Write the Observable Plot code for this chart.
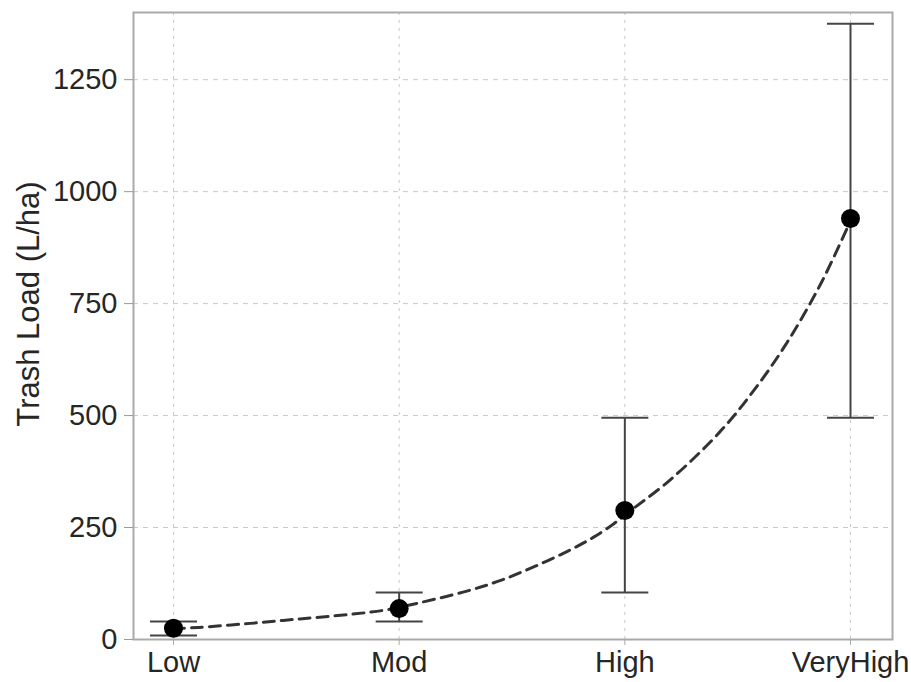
<!DOCTYPE html>
<html><head><meta charset="utf-8">
<script src="https://cdn.jsdelivr.net/npm/d3@7"></script>
<script src="https://cdn.jsdelivr.net/npm/@observablehq/plot@0.6"></script>
<style>body{margin:0;background:#fff;}</style>
</head><body><div id="chart"></div>
<script>
const categories = ["Low", "Mod", "High", "VeryHigh"];
const categoryIndex = [0, 1, 2, 3];
const meanLoad = [25, 69, 288, 940];
const lowerLoad = [9, 40, 105, 495];
const upperLoad = [40, 105, 495, 1375];
const fitPosition = [0, 0.11, 0.34, 0.56, 0.78, 0.93, 1.0, 1.09, 1.30, 1.45, 1.60, 1.75, 1.86, 1.95, 2.0, 2.20, 2.42, 2.57, 2.72, 2.87, 3.0];
const fitLoad = [24, 27, 36, 46, 56, 65, 72, 82, 108, 132, 163, 198, 228, 258, 278, 356, 463, 555, 664, 796, 935];
const yTicks = [0, 250, 500, 750, 1000, 1250];
const yLabel = "Trash Load (L/ha)";

const points = categoryIndex.map((p, k) => ({pos: p, mean: meanLoad[k], lo: lowerLoad[k], hi: upperLoad[k]}));
const fit = fitPosition.map((p, k) => ({pos: p, load: fitLoad[k]}));
const capSymbol = {draw(ctx, size) { const w = Math.sqrt(size / Math.PI); ctx.moveTo(-w, 0); ctx.lineTo(w, 0); }};

const chart = Plot.plot({
  width: 911, height: 682,
  marginLeft: 133, marginRight: 19, marginTop: 12, marginBottom: 43,
  style: {fontFamily: "'Liberation Sans', Arial, sans-serif", fontSize: "29px", color: "#262626", background: "#fff"},
  x: {domain: [0, 3], insetLeft: 40, insetRight: 42},
  y: {domain: [0, 1400]},
  marks: [
    Plot.gridX(categoryIndex, {stroke: "#c8c8c8", strokeOpacity: 1, strokeDasharray: "3,5"}),
    Plot.gridY(yTicks, {stroke: "#c8c8c8", strokeOpacity: 1, strokeDasharray: "5,5"}),
    Plot.frame({stroke: "#aaa", strokeWidth: 2}),
    Plot.axisY(yTicks, {tickFormat: d => String(d), tickSize: 9, tickPadding: 7, stroke: "#999", label: null}),
    Plot.axisX(categoryIndex, {tickFormat: i => categories[i], tickSize: 6, tickPadding: 6, stroke: "#aaa", label: null}),
    Plot.text([yLabel], {frameAnchor: "left", textAnchor: "middle", rotate: -90, dx: -104, dy: -22, fontSize: 31, fill: "#262626"}),
    Plot.ruleX(points, {x: "pos", y1: "lo", y2: "hi", stroke: "#444", strokeWidth: 2}),
    Plot.dot(points, {x: "pos", y: "lo", symbol: capSymbol, r: 23.5, stroke: "#444", strokeWidth: 2, fill: "none"}),
    Plot.dot(points, {x: "pos", y: "hi", symbol: capSymbol, r: 23.5, stroke: "#444", strokeWidth: 2, fill: "none"}),
    Plot.line(fit, {x: "pos", y: "load", curve: "catmull-rom", stroke: "#333", strokeWidth: 3, strokeDasharray: "11,7"}),
    Plot.dot(points, {x: "pos", y: "mean", r: 9.5, fill: "#000", stroke: "none"})
  ]
});
document.getElementById("chart").appendChild(chart);
</script>
</body></html>
